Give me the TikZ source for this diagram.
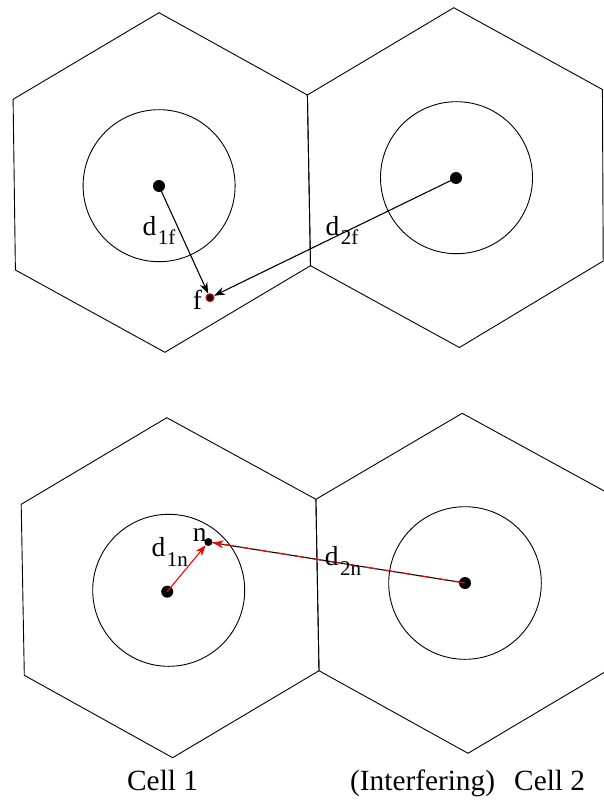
\documentclass[tikz,border=0pt]{standalone}
\usepackage{fontspec}
\setmainfont{Liberation Serif}
\usetikzlibrary{arrows.meta}
\newcommand\dlab[1]{d\kern1.5pt\raisebox{-0.34em}{\fontsize{21}{21}\selectfont #1}}
\begin{document}
\begin{tikzpicture}[x=1pt,y=-1pt,
  hex/.style={draw=black,line width=0.9pt,line join=miter},
  ring/.style={draw=black,line width=0.9pt},
  bigdot/.style={circle,fill=black,inner sep=0pt,minimum size=12pt},
  smalldot/.style={circle,fill=black,inner sep=0pt,minimum size=8pt},
  reddot/.style={circle,fill=black,draw=red,line width=1pt,inner sep=0pt,minimum size=8pt},
  arr/.style={line width=1.1pt,-{Stealth[length=11pt,width=8pt,inset=3.5pt]}},
  lab/.style={font=\fontsize{27.5}{27.5}\selectfont,inner sep=0pt,anchor=base west},
  cell/.style={font=\fontsize{29.3}{29.3}\selectfont,inner sep=0pt,anchor=base west}]
\clip (0,0) rectangle (604,802);
% ---------- top row ----------
\draw[hex] (159,12.7) -- (307.4,95) -- (310.5,265.7) -- (164.9,352.3) -- (15.4,270) -- (13.1,99.3) -- cycle;
\draw[hex] (453.8,7.7) -- (602.4,89.5) -- (603.2,261) -- (459.4,347.5) -- (310.5,265.7) -- (307.4,95) -- cycle;
\draw[ring] (159.1,185.7) circle (76);
\draw[ring] (456.5,177.7) circle (76);
\node[bigdot] (c1) at (159,186) {};
\node[bigdot] (c2) at (456,178) {};
\node[reddot] (f) at (210,297.7) {};
\draw[arr] (c1.center) -- (f);
\draw[arr] (c2.center) -- (f);
\node[lab] (lf) at (192.6,309) {f};
\node[lab] (l1f) at (142.5,235) {\dlab{1f}};
\node[lab] (l2f) at (325.5,235) {\dlab{2f}};
% ---------- bottom row ----------
\draw[hex] (166.8,417.7) -- (315.9,499.3) -- (319,670.7) -- (172.6,757.7) -- (24.3,675.3) -- (21.2,504.3) -- cycle;
\draw[hex] (462.2,413.3) -- (611.3,494.9) -- (614.4,666.3) -- (468,753.3) -- (319,670.7) -- (315.9,499.3) -- cycle;
\draw[ring] (168.7,590.3) circle (76);
\draw[ring] (465,583) circle (76.3);
\node[bigdot] (c3) at (167.2,591.7) {};
\node[bigdot] (c4) at (465,583) {};
\node[smalldot] (n) at (208.4,542) {};
\draw[arr,red] (c3.center) -- (n);
\draw[line width=1.1pt,black] (c4.center) -- (n);
\draw[arr,red,dash pattern=on 10pt off 8pt] (c4.center) -- (n);
\node[lab] (ln) at (192.6,541.7) {n};
\node[lab] (l1n) at (151.4,556.7) {\dlab{1n}};
\node[lab] (l2n) at (324.7,565.7) {\dlab{2n}};
% ---------- captions ----------
\node[cell] (cap1) at (127,790) {Cell 1};
\node[cell] (cap2a) at (350,790) {(Interfering)};
\node[cell] (cap2b) at (514,790) {Cell 2};
\end{tikzpicture}
\end{document}
